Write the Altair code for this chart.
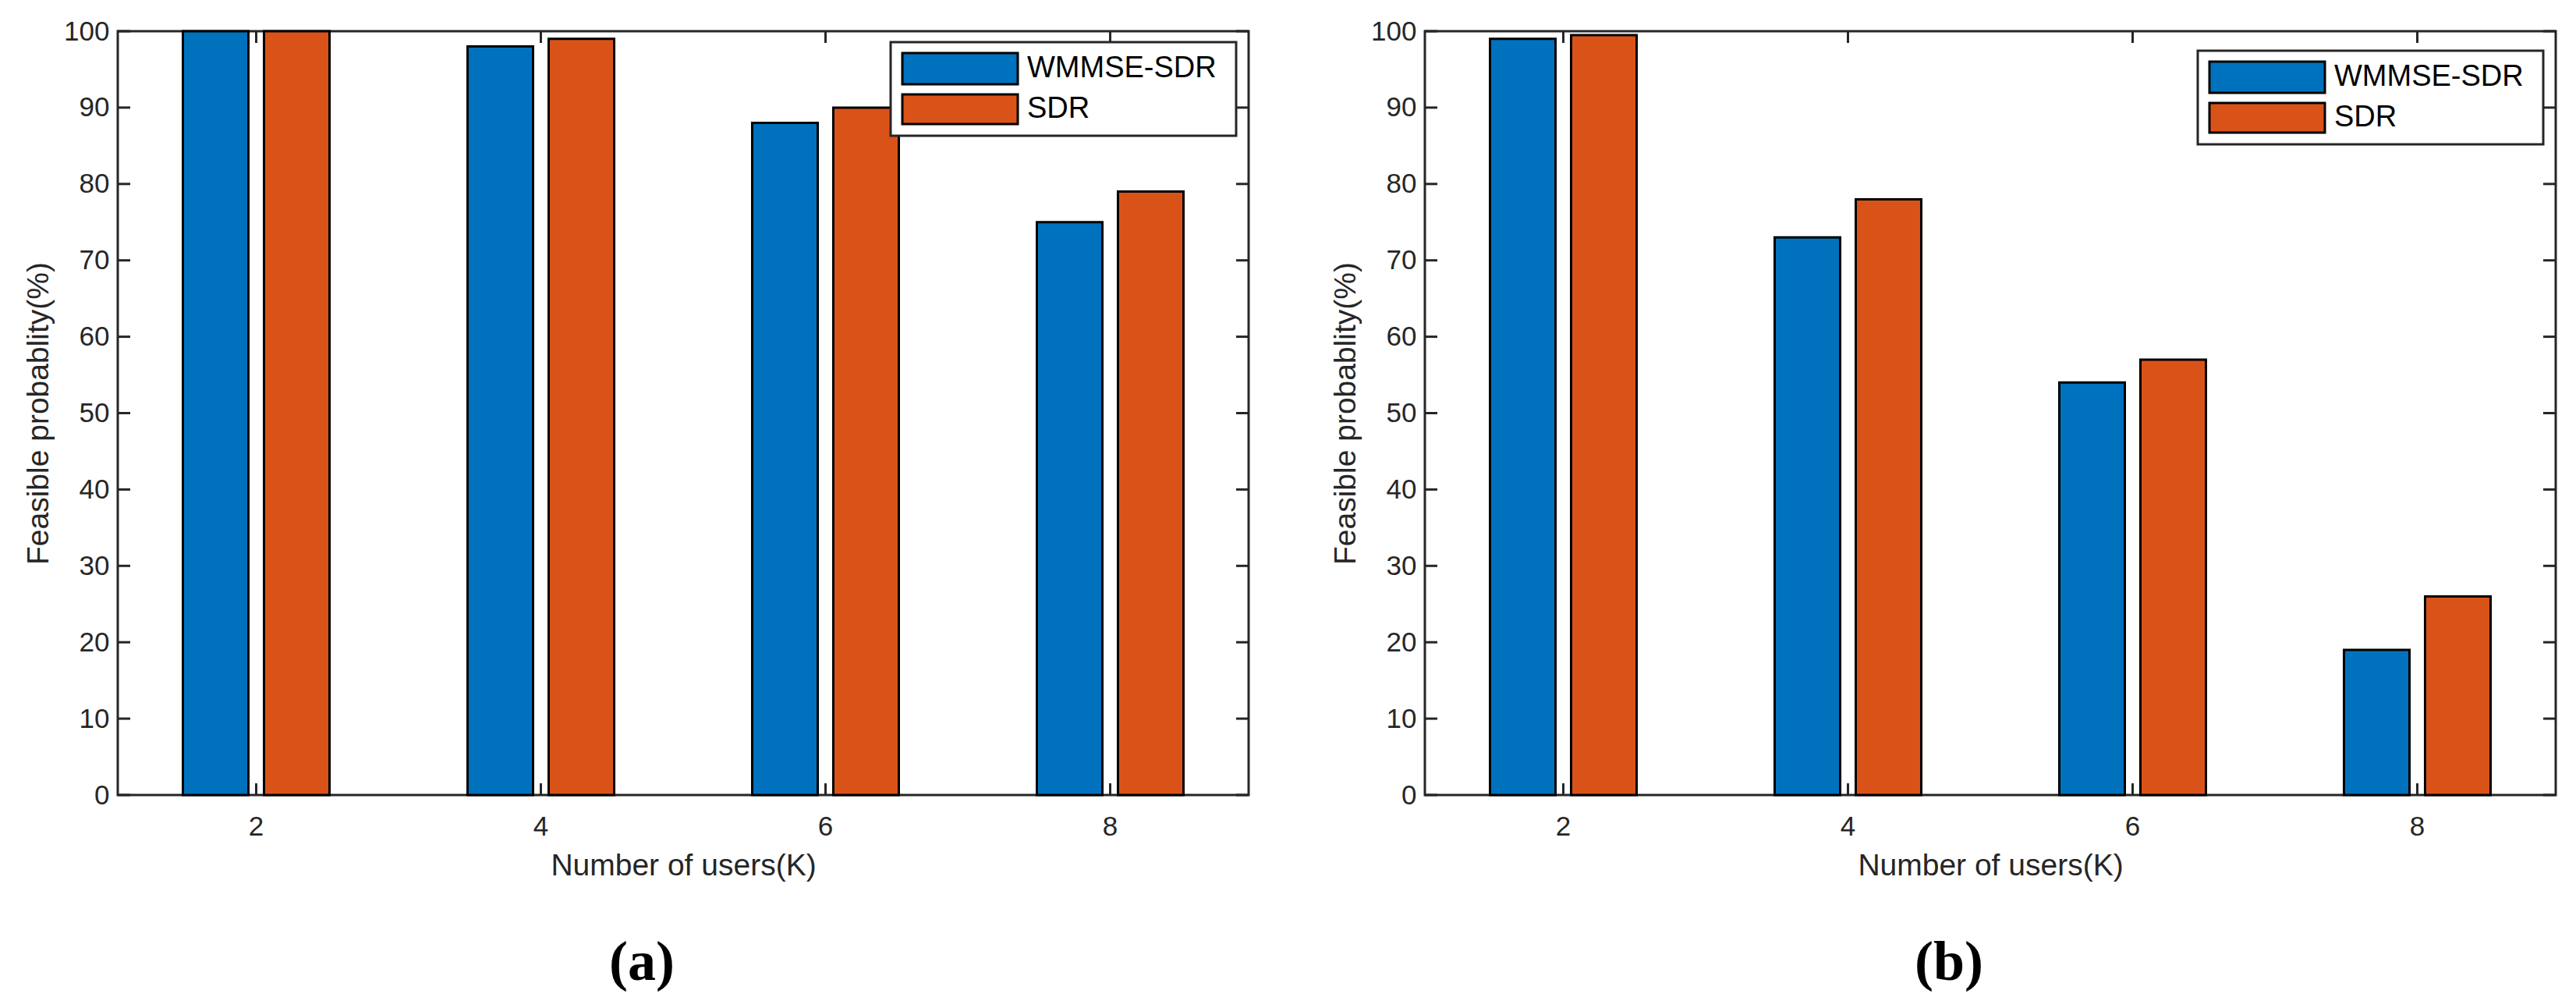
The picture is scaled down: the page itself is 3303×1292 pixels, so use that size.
import altair as alt
import pandas as pd

# ---------------- data ----------------
categories = [2, 4, 6, 8]
methods = ["WMMSE-SDR", "SDR"]
wmmse_a = [100, 98, 88, 75]
sdr_a = [100, 99, 90, 79]
wmmse_b = [99, 73, 54, 19]
sdr_b = [99.5, 78, 57, 26]
y_ticks = [0, 10, 20, 30, 40, 50, 60, 70, 80, 90, 100]
colors = ["#0072BD", "#D95319"]
captions = ["(a)", "(b)"]
x_title = "Number of users(K)"
y_title = "Feasible probablity(%)"

# ---------------- style ----------------
W, H = 1450, 979
AX = "#262626"
FONT = "Liberation Sans"
TICK = 15


def panel(wm, sd, cap, leg_top):
    df = pd.DataFrame({
        "K": categories * 2,
        "method": [methods[0]] * len(categories) + [methods[1]] * len(categories),
        "value": wm + sd,
    })
    xs = alt.Scale(domain=categories, paddingInner=0.4849, paddingOuter=0.2288)
    ys = alt.Scale(domain=[0, 100], nice=False, zero=True)
    cs = alt.Scale(domain=methods, range=colors)
    x_axis = alt.Axis(title=x_title, labelAngle=0, labelPadding=23, titlePadding=13)
    y_axis = alt.Axis(title=y_title, values=y_ticks, labelPadding=11, titlePadding=12)

    bars = alt.Chart(df).mark_bar(stroke="black", strokeWidth=3).encode(
        x=alt.X("K:O", scale=xs, axis=x_axis),
        xOffset=alt.XOffset("method:N", sort=methods,
                            scale=alt.Scale(domain=methods, paddingInner=0.192, paddingOuter=0)),
        y=alt.Y("value:Q", scale=ys, axis=y_axis),
        color=alt.Color("method:N", scale=cs, legend=None),
    )

    tick_df = pd.DataFrame({"value": y_ticks})
    k_df = pd.DataFrame({"K": categories})
    rule = dict(color=AX, strokeWidth=3)
    yl = alt.Chart(tick_df).mark_rule(**rule).encode(
        y=alt.Y("value:Q", scale=ys, axis=y_axis), x=alt.value(0), x2=alt.value(TICK + 1))
    yr = alt.Chart(tick_df).mark_rule(**rule).encode(
        y=alt.Y("value:Q", scale=ys, axis=y_axis), x=alt.value(W - TICK - 1), x2=alt.value(W))
    xb = alt.Chart(k_df).mark_rule(**rule).encode(
        x=alt.X("K:O", scale=xs, axis=x_axis, bandPosition=0.5), y=alt.value(H), y2=alt.value(H - TICK))
    xt = alt.Chart(k_df).mark_rule(**rule).encode(
        x=alt.X("K:O", scale=xs, axis=x_axis, bandPosition=0.5), y=alt.value(0), y2=alt.value(TICK))

    # legend (drawn inside the axes like MATLAB's)
    bl = W - 16 - 443
    box = alt.Chart(pd.DataFrame({"legend": ["box"]})).mark_rect(
        fill="white", stroke=AX, strokeWidth=3).encode(
        x=alt.value(bl), x2=alt.value(bl + 443), y=alt.value(leg_top), y2=alt.value(leg_top + 120))
    leg_df = pd.DataFrame({"method": methods})
    layers = [bars, yl, yr, xb, xt, box]
    offs = [(14, 54), (67, 105)]
    for m, (a, b) in zip(methods, offs):
        sw = alt.Chart(leg_df).transform_filter(alt.datum.method == m).mark_rect(
            stroke="black", strokeWidth=3).encode(
            x=alt.value(bl + 15), x2=alt.value(bl + 163),
            y=alt.value(leg_top + a), y2=alt.value(leg_top + b),
            color=alt.Color("method:N", scale=cs, legend=None))
        tx = alt.Chart(leg_df).transform_filter(alt.datum.method == m).mark_text(
            align="left", baseline="middle", font=FONT, fontSize=38, color="black").encode(
            text="method:N", x=alt.value(bl + 175), y=alt.value(leg_top + (a + b) / 2))
        layers += [sw, tx]

    return alt.layer(*layers).properties(
        width=W, height=H,
        title=alt.TitleParams(cap, orient="bottom", anchor="middle", frame="group", dx=-53,
                              offset=70, font="Liberation Serif", fontSize=72,
                              fontWeight="bold", color="black"),
    )


chart = alt.hconcat(
    panel(wmmse_a, sdr_a, captions[0], 14),
    panel(wmmse_b, sdr_b, captions[1], 25),
    spacing=101,
).properties(
    padding={"left": 21, "top": 13, "right": 0, "bottom": 0},
    background="white",
).configure_view(
    stroke=AX, strokeWidth=3
).configure_axis(
    domain=False, ticks=False, grid=False,
    labelFont=FONT, labelFontSize=35, labelColor=AX,
    titleFont=FONT, titleFontSize=39, titleFontWeight="normal", titleColor=AX,
)

chart.save("out.html", embed_options={"renderer": "svg", "actions": False})
